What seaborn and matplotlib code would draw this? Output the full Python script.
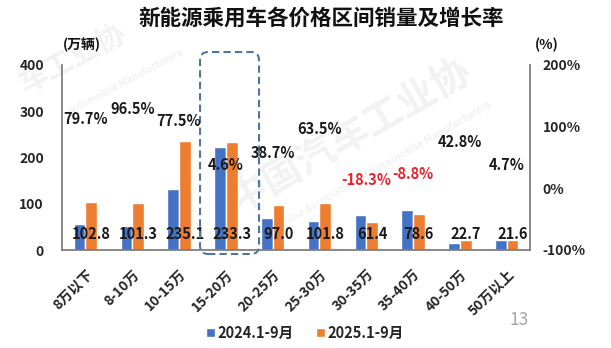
import matplotlib
matplotlib.use("Agg")
import matplotlib.pyplot as plt
import seaborn as sns
import pandas as pd
from matplotlib.patches import FancyBboxPatch

# 价格区间与销量（万辆）、同比增长率（%）
categories = ["8万以下", "8-10万", "10-15万", "15-20万", "20-25万",
              "25-30万", "30-35万", "35-40万", "40-50万", "50万以上"]
series = ["2024.1-9月", "2025.1-9月"]
sales_2024 = [57.2, 51.6, 132.5, 223.0, 69.9, 62.3, 75.2, 86.2, 15.9, 20.6]
sales_2025 = [102.8, 101.3, 235.1, 233.3, 97.0, 101.8, 61.4, 78.6, 22.7, 21.6]
growth = [79.7, 96.5, 77.5, 4.6, 38.7, 63.5, -18.3, -8.8, 42.8, 4.7]
left_ticks = [0, 100, 200, 300, 400]
right_ticks = [-100, 0, 100, 200]

sns.set_theme(style="white")
plt.rcParams["font.family"] = ["Noto Sans CJK SC", "DejaVu Sans"]
plt.rcParams["font.weight"] = "bold"
plt.rcParams["axes.unicode_minus"] = False

W, H = 611, 348
fig = plt.figure(figsize=(W / 100, H / 100), dpi=100)
fig.patch.set_facecolor("white")

# faint association watermark behind everything
wm_color = "#f2f2f2"
fig.text(72 / W, 1 - 58 / H, "车工业协", fontsize=21, color=wm_color, rotation=28,
         ha="center", va="center", zorder=-5)
fig.text(125 / W, 1 - 82 / H, "Automobile Manufacturers", fontsize=7,
         color=wm_color, rotation=28, ha="center", va="center", zorder=-5)
fig.text(350 / W, 1 - 135 / H, "中国汽车工业协", fontsize=28, color=wm_color, rotation=30,
         ha="center", va="center", zorder=-5)
fig.text(385 / W, 1 - 165 / H, "China Association of Automobile Manufacturers", fontsize=7.5,
         color=wm_color, rotation=30, ha="center", va="center", zorder=-5)

ax = fig.add_axes([62 / W, 1 - 250 / H, 468 / W, 185 / H])
ax.patch.set_alpha(0)

df = pd.DataFrame({
    "区间": categories * 2,
    "销量": sales_2024 + sales_2025,
    "时期": [series[0]] * len(categories) + [series[1]] * len(categories),
})
sns.barplot(data=df, x="区间", y="销量", hue="时期", hue_order=series,
            palette=["#4472C4", "#ED7D31"], saturation=1, width=0.5, gap=0,
            errorbar=None, ax=ax, zorder=2)

ax.set_xlim(-0.5, len(categories) - 0.5)
ax.set_ylim(0, 400)
ax.set_yticks(left_ticks)
ax.set_yticklabels([str(t) for t in left_ticks], fontsize=10, fontweight="bold")
ax.set_xlabel("")
ax.set_ylabel("")
ax.set_xticks(range(len(categories)))
ax.set_xticklabels(categories, rotation=45, ha="right", rotation_mode="anchor",
                   fontsize=10, fontweight="bold")
ax.tick_params(axis="y", length=0, pad=13)
ax.tick_params(axis="x", length=0, pad=12.5)
for side in ["top", "right"]:
    ax.spines[side].set_visible(False)
for side in ["left", "bottom"]:
    ax.spines[side].set_color("#7f7f7f")
    ax.spines[side].set_linewidth(1.3)

handles, labels = ax.get_legend_handles_labels()
ax.get_legend().remove()

# 2025 value labels at the base of the orange bars
for bar, v in zip(ax.containers[1], sales_2025):
    cx = bar.get_x() + bar.get_width() / 2
    ax.annotate(f"{v:.1f}", xy=(cx, 0), xytext=(0, 11.5), textcoords="offset points",
                ha="center", va="center", fontsize=10.5, fontweight="bold",
                color="#1a1a1a", zorder=5)

# growth rate on the secondary axis
ax2 = ax.twinx()
ax2.set_ylim(-100, 200)
ax2.set_yticks(right_ticks)
ax2.set_yticklabels([f"{t}%" for t in right_ticks], fontsize=10, fontweight="bold")
ax2.tick_params(axis="y", length=0, pad=9)
ax2.grid(False)
ax.grid(False)
for side in ["top", "left", "bottom"]:
    ax2.spines[side].set_visible(False)
ax2.spines["right"].set_color("#7f7f7f")
ax2.spines["right"].set_linewidth(1.3)

lift = {4: 8.6}
for i, g in enumerate(growth):
    ax2.annotate(f"{g}%", xy=(i, g), xytext=(0, lift.get(i, 14.4)),
                 textcoords="offset points", ha="center", va="center",
                 fontsize=10.5, fontweight="bold",
                 color="#E8252B" if g < 0 else "#1a1a1a", zorder=5)

# dashed highlight around the 15-20万 group
px_x = 1 / 46.8
box = FancyBboxPatch((2.45, -8.6), 1.26, 436.6,
                     boxstyle=f"round,pad=0,rounding_size={8 * px_x}",
                     mutation_aspect=46.8 / 0.4625,
                     transform=ax.transData, fill=False, edgecolor="#527697",
                     linewidth=1.5, linestyle=(0, (3.5, 2)), clip_on=False, zorder=6)
ax.add_patch(box)

fig.text(321 / W, 1 - 18 / H, "新能源乘用车各价格区间销量及增长率", fontsize=15.5,
         fontweight="bold", ha="center", va="center", color="#111111")
fig.text(82 / W, 1 - 45 / H, "(万辆)", fontsize=10, fontweight="bold",
         ha="center", va="center", color="#111111")
fig.text(547 / W, 1 - 45 / H, "(%)", fontsize=10, fontweight="bold",
         ha="center", va="center", color="#111111")

fig.legend(handles, labels, loc="center", bbox_to_anchor=(305 / W, 1 - 333 / H),
           ncol=2, frameon=False, handlelength=0.6, handleheight=0.6,
           handletextpad=0.2, columnspacing=1.5, prop={"weight": "bold", "size": 10.5})

fig.text(519 / W, 1 - 320 / H, "13", fontsize=12.5, fontweight="normal",
         color="#a6a6a6", ha="center", va="center")

fig.savefig("out.png", dpi=100)
